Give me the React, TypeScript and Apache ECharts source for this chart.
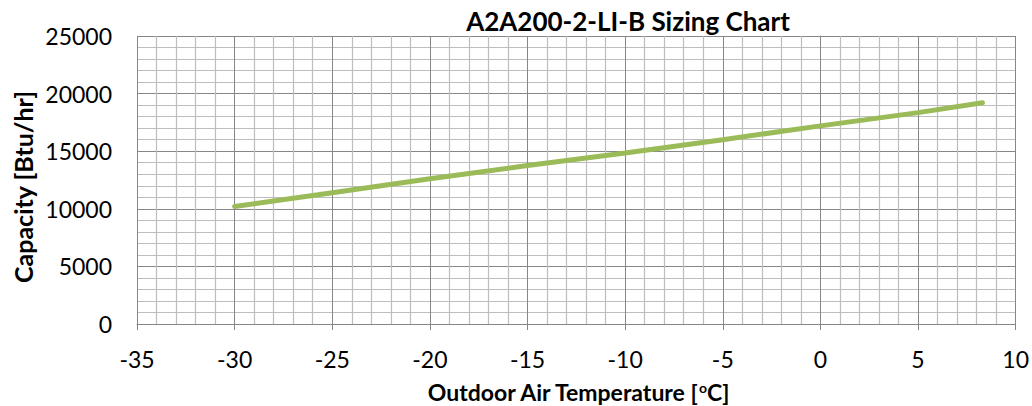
import React, { useEffect, useRef } from "react";
import * as echarts from "echarts";

const temperatures = [-30, -25, -20, -15, -10, -5, 0, 5, 8.3];
const capacities = [10200, 11400, 12600, 13750, 14850, 16000, 17200, 18350, 19200];
const chartTitle = "A2A200-2-LI-B Sizing Chart";
const yAxisName = "Capacity [Btu/hr]";

const FONT = "Lato, 'Open Sans', sans-serif";

export default function App() {
  const ref = useRef<HTMLDivElement>(null);
  useEffect(() => {
    if (!ref.current) return;
    const chart = echarts.init(ref.current, null, { renderer: "svg" });
    const data = temperatures.map((t, i) => [t, capacities[i]]);
    chart.setOption({
      animation: false,
      backgroundColor: "#ffffff",
      grid: { left: 137, right: 16, top: 36, bottom: 82 },
      xAxis: {
        type: "value",
        min: -35,
        max: 10,
        interval: 5,
        axisLine: { show: true, lineStyle: { color: "#868686", width: 1 } },
        axisTick: { show: true, length: 6, lineStyle: { color: "#868686" } },
        axisLabel: {
          margin: 23,
          fontSize: 23,
          color: "#000",
          fontFamily: FONT,
          formatter: (v: number) => String(v),
        },
        splitLine: { show: true, lineStyle: { color: "#868686", width: 1 } },
        minorTick: { show: false, splitNumber: 5 },
        minorSplitLine: { show: true, lineStyle: { color: "#BDBDBD", width: 1.2 } },
      },
      yAxis: {
        type: "value",
        min: 0,
        max: 25000,
        interval: 5000,
        axisLine: { show: true, lineStyle: { color: "#868686", width: 1 } },
        axisTick: { show: true, length: 6, lineStyle: { color: "#868686" } },
        axisLabel: {
          margin: 25,
          fontSize: 23,
          color: "#000",
          fontFamily: FONT,
          formatter: (v: number) => String(v),
        },
        splitLine: { show: true, lineStyle: { color: "#868686", width: 1 } },
        minorTick: { show: false, splitNumber: 5 },
        minorSplitLine: { show: true, lineStyle: { color: "#BDBDBD", width: 1.2 } },
      },
      series: [
        {
          type: "line",
          data,
          showSymbol: false,
          symbol: "none",
          lineStyle: { color: "#9BBB59", width: 5, cap: "round" },
        },
      ],
      graphic: [
        {
          type: "text",
          x: 628,
          y: 21,
          style: {
            text: chartTitle,
            font: `bold 26px ${FONT}`,
            fill: "#000",
            textAlign: "center",
            textVerticalAlign: "middle",
          },
        },
        {
          type: "text",
          x: 23,
          y: 187,
          rotation: Math.PI / 2,
          style: {
            text: yAxisName,
            font: `bold 25px ${FONT}`,
            fill: "#000",
            textAlign: "center",
            textVerticalAlign: "middle",
          },
        },
        {
          type: "text",
          x: 578,
          y: 392,
          style: {
            text: "{b|Outdoor Air Temperature [}{s|o}{b|C]}",
            rich: {
              b: { font: `bold 23px ${FONT}`, fill: "#000", lineHeight: 24 },
              s: {
                font: `bold 14px ${FONT}`,
                fill: "#000",
                verticalAlign: "top",
                lineHeight: 14,
                padding: [0, 0, 7, 0],
              },
            },
            textAlign: "center",
            textVerticalAlign: "middle",
          },
        },
      ],
    });
    return () => chart.dispose();
  }, []);
  return (
    <div
      ref={ref}
      style={{ position: "fixed", left: 0, top: 0, width: 1032, height: 406 }}
    />
  );
}
